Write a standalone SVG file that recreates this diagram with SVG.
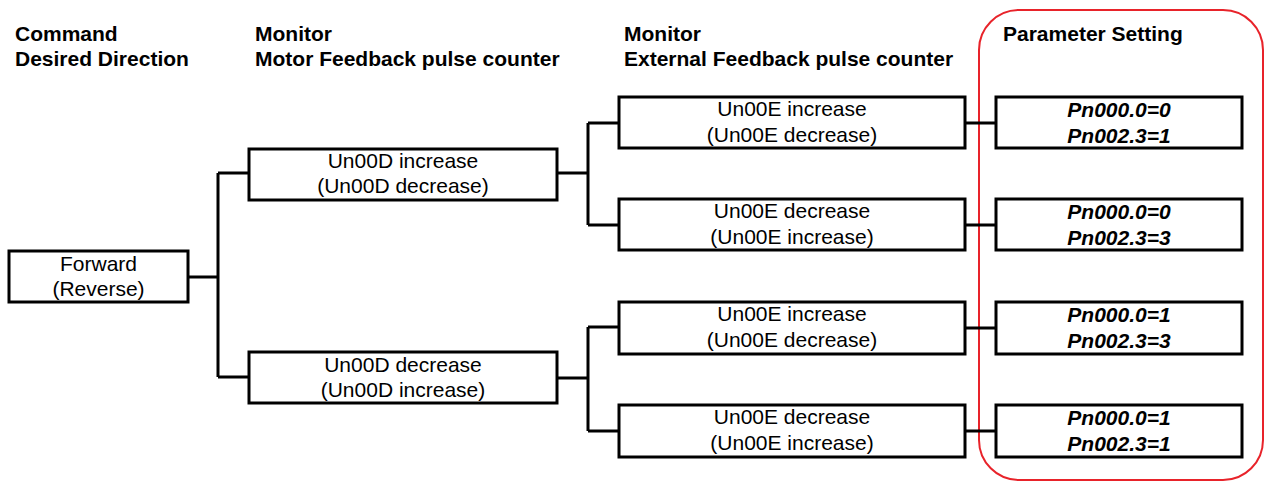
<svg xmlns="http://www.w3.org/2000/svg" width="1264" height="481" viewBox="0 0 1264 481">
<style>
text{font-family:"Liberation Sans",Arial,sans-serif;font-size:21px;fill:#000}
.h{font-weight:bold}
.t{text-anchor:middle}
.p{font-weight:bold;font-style:italic;text-anchor:middle}
.box{fill:#fff;stroke:#000;stroke-width:3}
.c{fill:none;stroke:#000;stroke-width:3}
</style>
<rect width="1264" height="481" fill="#fff"/>
<g id="headers">
<text class="h" x="15" y="41">Command</text>
<text class="h" x="15" y="66">Desired Direction</text>
<text class="h" x="255" y="41">Monitor</text>
<text class="h" x="255" y="66">Motor Feedback pulse counter</text>
<text class="h" x="624" y="41">Monitor</text>
<text class="h" x="624" y="66">External Feedback pulse counter</text>
</g>
<g id="param-frame">
<rect x="979" y="10" width="284" height="470" rx="40" fill="none" stroke="#e8232a" stroke-width="2"/>
<text class="h" x="1003" y="41">Parameter Setting</text>
</g>
<g id="connectors">
<path class="c" d="M188 277H218M218 173V377M218 173H249M218 377H249"/>
<path class="c" d="M557 173H588M588 123V225M588 123H619M588 225H619"/>
<path class="c" d="M557 378H588M588 327V431M588 327H619M588 431H619"/>
<path class="c" d="M965 123H996M965 225H996M965 328H996M965 431H996"/>
</g>
<g id="forward">
<rect class="box" x="9" y="251" width="179" height="51"/>
<text class="t" x="98.5" y="271">Forward</text>
<text class="t" x="98.5" y="296">(Reverse)</text>
</g>
<g id="un00d-inc">
<rect class="box" x="249" y="149" width="308" height="51"/>
<text class="t" x="403" y="168">Un00D increase</text>
<text class="t" x="403" y="193">(Un00D decrease)</text>
</g>
<g id="un00d-dec">
<rect class="box" x="249" y="352" width="308" height="51"/>
<text class="t" x="403" y="372">Un00D decrease</text>
<text class="t" x="403" y="397">(Un00D increase)</text>
</g>
<g id="e1">
<rect class="box" x="619" y="97" width="346" height="51"/>
<text class="t" x="792" y="116">Un00E increase</text>
<text class="t" x="792" y="142">(Un00E decrease)</text>
</g>
<g id="e2">
<rect class="box" x="619" y="199" width="346" height="51"/>
<text class="t" x="792" y="218">Un00E decrease</text>
<text class="t" x="792" y="244">(Un00E increase)</text>
</g>
<g id="e3">
<rect class="box" x="619" y="302" width="346" height="52"/>
<text class="t" x="792" y="321">Un00E increase</text>
<text class="t" x="792" y="347">(Un00E decrease)</text>
</g>
<g id="e4">
<rect class="box" x="619" y="405" width="346" height="52"/>
<text class="t" x="792" y="424">Un00E decrease</text>
<text class="t" x="792" y="450">(Un00E increase)</text>
</g>
<g id="p1">
<rect class="box" x="996" y="97" width="246" height="51"/>
<text class="p" x="1119" y="117">Pn000.0=0</text>
<text class="p" x="1119" y="143">Pn002.3=1</text>
</g>
<g id="p2">
<rect class="box" x="996" y="199" width="246" height="51"/>
<text class="p" x="1119" y="219">Pn000.0=0</text>
<text class="p" x="1119" y="245">Pn002.3=3</text>
</g>
<g id="p3">
<rect class="box" x="996" y="302" width="246" height="52"/>
<text class="p" x="1119" y="322">Pn000.0=1</text>
<text class="p" x="1119" y="348">Pn002.3=3</text>
</g>
<g id="p4">
<rect class="box" x="996" y="405" width="246" height="52"/>
<text class="p" x="1119" y="425">Pn000.0=1</text>
<text class="p" x="1119" y="451">Pn002.3=1</text>
</g>
</svg>
